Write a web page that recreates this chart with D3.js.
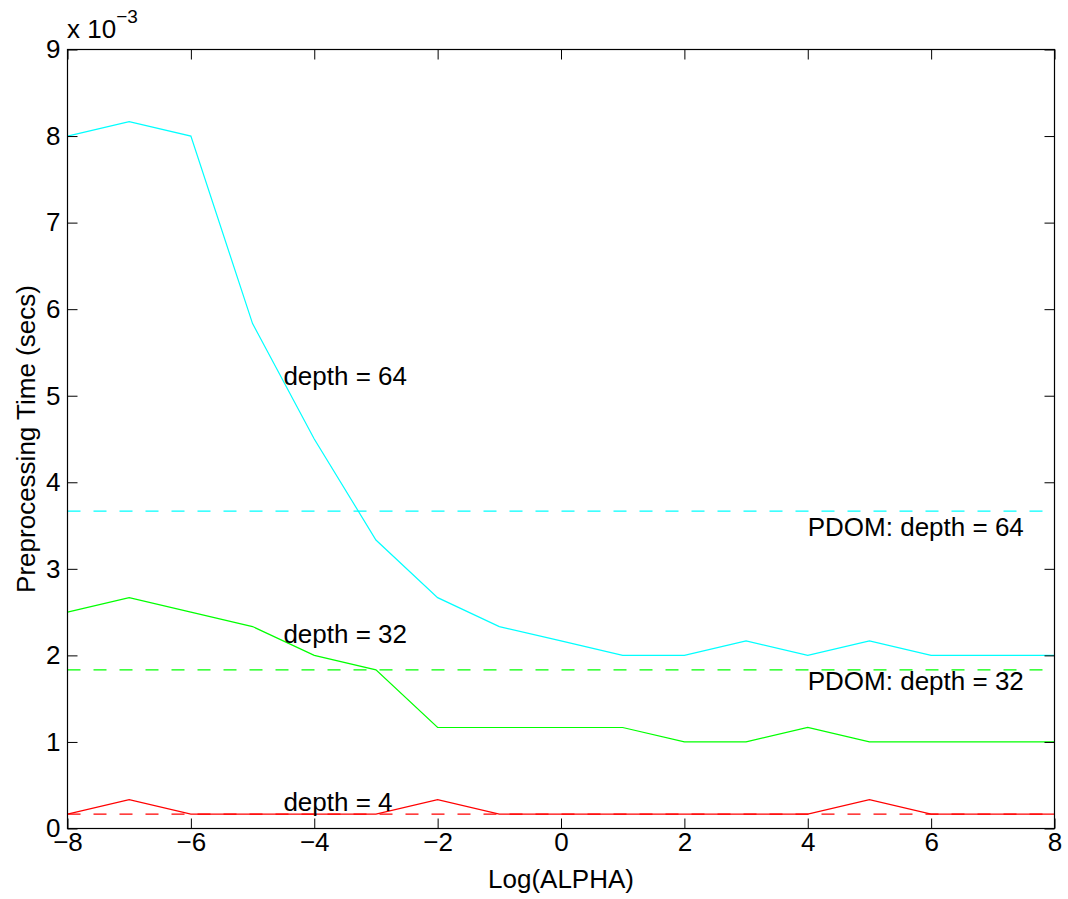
<!DOCTYPE html>
<html>
<head>
<meta charset="utf-8">
<script src="https://cdn.jsdelivr.net/npm/d3@7"></script>
<style>
  body { margin: 0; background: #ffffff; }
  text { font-family: "Liberation Sans", Arial, Helvetica, sans-serif; }
</style>
</head>
<body>
<div id="svg-container"></div>
<script>
// chart size
var svgWidth  = 1068;
var svgHeight = 899;

// data: x = log(alpha), times in units of 1e-3 secs
var logAlpha = [-8, -7, -6, -5, -4, -3, -2, -1, 0, 1, 2, 3, 4, 5, 6, 7, 8];
var depth64  = [8.0, 8.167, 8.0, 5.833, 4.5, 3.333, 2.667, 2.333, 2.167, 2.0, 2.0, 2.167, 2.0, 2.167, 2.0, 2.0, 2.0];
var depth32  = [2.5, 2.667, 2.5, 2.333, 2.0, 1.833, 1.167, 1.167, 1.167, 1.167, 1.0, 1.0, 1.167, 1.0, 1.0, 1.0, 1.0];
var depth4   = [0.167, 0.333, 0.167, 0.167, 0.167, 0.167, 0.333, 0.167, 0.167, 0.167, 0.167, 0.167, 0.167, 0.333, 0.167, 0.167, 0.167];

// PDOM reference levels (1e-3 secs)
var pdom64 = 3.667;
var pdom32 = 1.833;
var pdom4  = 0.167;

// tick values
var xTicks = [-8, -6, -4, -2, 0, 2, 4, 6, 8];
var yTicks = [0, 1, 2, 3, 4, 5, 6, 7, 8, 9];

// text annotations, in data coordinates
var labels = [
  { x: -4.5, y: 5.22, text: "depth = 64" },
  { x: -4.5, y: 2.24, text: "depth = 32" },
  { x: -4.5, y: 0.30, text: "depth = 4" },
  { x: 4.0,  y: 3.48, text: "PDOM: depth = 64" },
  { x: 4.0,  y: 1.70, text: "PDOM: depth = 32" }
];

var series = [
  { values: depth64, level: pdom64, color: "#00ffff" },
  { values: depth32, level: pdom32, color: "#00ff00" },
  { values: depth4,  level: pdom4,  color: "#ff0000" }
];

// plot box
var boxLeft = 67.5, boxRight = 1054.5, boxTop = 49.5, boxBottom = 828.5;
var fontSize = 26;

var xScale = d3.scaleLinear()
                .domain([-8, 8])
                .range([boxLeft, boxRight]);

var yScale = d3.scaleLinear()
                .domain([0, 9])
                .range([boxBottom, boxTop]);

var svg = d3.select("#svg-container")
            .append("svg")
            .attr("width", svgWidth)
            .attr("height", svgHeight);

svg.append("rect")
    .attr("width", svgWidth)
    .attr("height", svgHeight)
    .style("fill", "#ffffff");

// data lines
var line = d3.line()
              .x(function(d, i) { return xScale(logAlpha[i]); })
              .y(function(d) { return yScale(d); });

var plot = svg.append("g");

// dashed PDOM levels
plot.selectAll("line.pdom")
    .data(series)
    .enter()
      .append("line")
      .attr("class", "pdom")
      .attr("x1", xScale(-8))
      .attr("x2", xScale(8))
      .attr("y1", function(d) { return yScale(d.level); })
      .attr("y2", function(d) { return yScale(d.level); })
      .attr("stroke", function(d) { return d.color; })
      .attr("stroke-width", 1.2)
      .attr("stroke-dasharray", "13,13");

plot.selectAll("path.series")
    .data(series)
    .enter()
      .append("path")
      .attr("class", "series")
      .attr("d", function(d) { return line(d.values); })
      .attr("fill", "none")
      .attr("stroke", function(d) { return d.color; })
      .attr("stroke-width", 1.2);

// axes: ticks point inward, box drawn separately
function styleAxis(g, showLabels) {
  g.select(".domain").remove();
  g.selectAll(".tick line").attr("stroke", "#000000");
  g.selectAll(".tick text")
    .attr("font-size", fontSize)
    .attr("font-family", "Liberation Sans, Arial, sans-serif")
    .attr("fill", "#000000");
  if (!showLabels) g.selectAll(".tick text").remove();
}

svg.append("g")
    .attr("transform", "translate(0," + boxBottom + ")")
    .call(d3.axisBottom(xScale).tickValues(xTicks).tickSizeInner(-10).tickSizeOuter(0).tickPadding(4))
    .call(styleAxis, true);

svg.append("g")
    .attr("transform", "translate(0," + boxTop + ")")
    .call(d3.axisTop(xScale).tickValues(xTicks).tickSizeInner(-10).tickSizeOuter(0))
    .call(styleAxis, false);

svg.append("g")
    .attr("transform", "translate(" + boxLeft + ",0)")
    .call(d3.axisLeft(yScale).tickValues(yTicks).tickSizeInner(-10).tickSizeOuter(0).tickPadding(7))
    .call(styleAxis, true);

svg.append("g")
    .attr("transform", "translate(" + boxRight + ",0)")
    .call(d3.axisRight(yScale).tickValues(yTicks).tickSizeInner(-10).tickSizeOuter(0))
    .call(styleAxis, false);

svg.append("rect")
    .attr("x", boxLeft)
    .attr("y", boxTop)
    .attr("width", boxRight - boxLeft)
    .attr("height", boxBottom - boxTop)
    .attr("fill", "none")
    .attr("stroke", "#000000")
    .attr("stroke-width", 1.2);

// annotations
svg.selectAll("text.label")
    .data(labels)
    .enter()
      .append("text")
      .attr("class", "label")
      .attr("x", function(d) { return xScale(d.x); })
      .attr("y", function(d) { return yScale(d.y); })
      .attr("dy", "0.32em")
      .attr("font-size", fontSize)
      .attr("fill", "#000000")
      .text(function(d) { return d.text; });

// exponent label
var expo = svg.append("text")
              .attr("x", 67)
              .attr("y", 38)
              .attr("font-size", fontSize)
              .attr("fill", "#000000");
expo.append("tspan").text("x 10");
expo.append("tspan")
    .attr("dy", -15)
    .attr("font-size", 19)
    .text("\u22123");

// axis titles
svg.append("text")
    .attr("x", (boxLeft + boxRight) / 2)
    .attr("y", 888)
    .attr("text-anchor", "middle")
    .attr("font-size", fontSize)
    .attr("fill", "#000000")
    .text("Log(ALPHA)");

svg.append("text")
    .attr("transform", "translate(35," + (boxTop + boxBottom) / 2 + ") rotate(-90)")
    .attr("text-anchor", "middle")
    .attr("font-size", fontSize)
    .attr("fill", "#000000")
    .text("Preprocessing Time (secs)");
</script>
</body>
</html>
